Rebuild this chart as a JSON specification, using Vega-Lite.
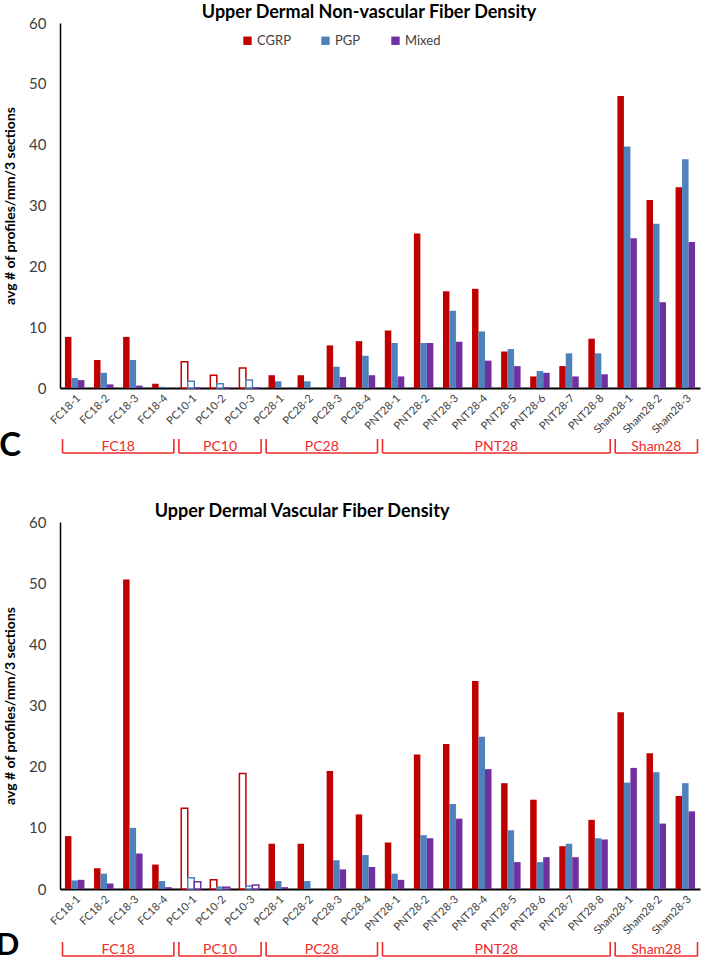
{
  "$schema": "https://vega.github.io/schema/vega-lite/v6.json",
  "background": "white",
  "padding": {"left": -5, "top": 4, "right": 2, "bottom": 0},
  "config": {
    "font": "Lato",
    "view": {"stroke": null},
    "axis": {"grid": false, "ticks": false, "domainColor": "black", "labelColor": "#404040", "labelFont": "Lato", "titleFont": "Lato"},
    "title": {"font": "Lato", "fontWeight": "bold", "fontSize": 18, "color": "black", "offset": -6},
    "legend": {"labelFont": "Lato"}
  },
  "datasets": {
    "C": [
      {"sample": "FC18-1", "group": "FC18", "CGRP": 8.4, "PGP": 1.65, "Mixed": 1.3},
      {"sample": "FC18-2", "group": "FC18", "CGRP": 4.6, "PGP": 2.5, "Mixed": 0.6},
      {"sample": "FC18-3", "group": "FC18", "CGRP": 8.4, "PGP": 4.6, "Mixed": 0.4},
      {"sample": "FC18-4", "group": "FC18", "CGRP": 0.7, "PGP": 0.2, "Mixed": 0},
      {"sample": "PC10-1", "group": "PC10", "CGRP": 4.3, "PGP": 1.1, "Mixed": 0},
      {"sample": "PC10-2", "group": "PC10", "CGRP": 2.1, "PGP": 0.7, "Mixed": 0},
      {"sample": "PC10-3", "group": "PC10", "CGRP": 3.3, "PGP": 1.3, "Mixed": 0},
      {"sample": "PC28-1", "group": "PC28", "CGRP": 2.1, "PGP": 1.1, "Mixed": 0},
      {"sample": "PC28-2", "group": "PC28", "CGRP": 2.1, "PGP": 1.1, "Mixed": 0},
      {"sample": "PC28-3", "group": "PC28", "CGRP": 7.0, "PGP": 3.5, "Mixed": 1.8},
      {"sample": "PC28-4", "group": "PC28", "CGRP": 7.7, "PGP": 5.3, "Mixed": 2.1},
      {"sample": "PNT28-1", "group": "PNT28", "CGRP": 9.45, "PGP": 7.4, "Mixed": 1.9},
      {"sample": "PNT28-2", "group": "PNT28", "CGRP": 25.4, "PGP": 7.4, "Mixed": 7.4},
      {"sample": "PNT28-3", "group": "PNT28", "CGRP": 15.9, "PGP": 12.7, "Mixed": 7.6},
      {"sample": "PNT28-4", "group": "PNT28", "CGRP": 16.3, "PGP": 9.3, "Mixed": 4.5},
      {"sample": "PNT28-5", "group": "PNT28", "CGRP": 6.0, "PGP": 6.4, "Mixed": 3.6},
      {"sample": "PNT28-6", "group": "PNT28", "CGRP": 1.9, "PGP": 2.8, "Mixed": 2.5},
      {"sample": "PNT28-7", "group": "PNT28", "CGRP": 3.6, "PGP": 5.7, "Mixed": 1.9},
      {"sample": "PNT28-8", "group": "PNT28", "CGRP": 8.1, "PGP": 5.7, "Mixed": 2.25},
      {"sample": "Sham28-1", "group": "Sham28", "CGRP": 48.0, "PGP": 39.7, "Mixed": 24.6},
      {"sample": "Sham28-2", "group": "Sham28", "CGRP": 30.9, "PGP": 27.0, "Mixed": 14.1},
      {"sample": "Sham28-3", "group": "Sham28", "CGRP": 33.0, "PGP": 37.6, "Mixed": 24.0}
    ],
    "D": [
      {"sample": "FC18-1", "group": "FC18", "CGRP": 8.65, "PGP": 1.4, "Mixed": 1.5},
      {"sample": "FC18-2", "group": "FC18", "CGRP": 3.4, "PGP": 2.5, "Mixed": 0.9},
      {"sample": "FC18-3", "group": "FC18", "CGRP": 50.6, "PGP": 10.0, "Mixed": 5.8},
      {"sample": "FC18-4", "group": "FC18", "CGRP": 4.0, "PGP": 1.3, "Mixed": 0.3},
      {"sample": "PC10-1", "group": "PC10", "CGRP": 13.2, "PGP": 1.85, "Mixed": 1.2},
      {"sample": "PC10-2", "group": "PC10", "CGRP": 1.5, "PGP": 0.3, "Mixed": 0.3},
      {"sample": "PC10-3", "group": "PC10", "CGRP": 18.9, "PGP": 0.5, "Mixed": 0.65},
      {"sample": "PC28-1", "group": "PC28", "CGRP": 7.4, "PGP": 1.3, "Mixed": 0.3},
      {"sample": "PC28-2", "group": "PC28", "CGRP": 7.4, "PGP": 1.3, "Mixed": 0},
      {"sample": "PC28-3", "group": "PC28", "CGRP": 19.3, "PGP": 4.7, "Mixed": 3.2},
      {"sample": "PC28-4", "group": "PC28", "CGRP": 12.2, "PGP": 5.55, "Mixed": 3.6},
      {"sample": "PNT28-1", "group": "PNT28", "CGRP": 7.6, "PGP": 2.5, "Mixed": 1.5},
      {"sample": "PNT28-2", "group": "PNT28", "CGRP": 22.0, "PGP": 8.8, "Mixed": 8.3},
      {"sample": "PNT28-3", "group": "PNT28", "CGRP": 23.7, "PGP": 13.9, "Mixed": 11.5},
      {"sample": "PNT28-4", "group": "PNT28", "CGRP": 34.0, "PGP": 24.9, "Mixed": 19.6},
      {"sample": "PNT28-5", "group": "PNT28", "CGRP": 17.3, "PGP": 9.6, "Mixed": 4.4},
      {"sample": "PNT28-6", "group": "PNT28", "CGRP": 14.6, "PGP": 4.4, "Mixed": 5.2},
      {"sample": "PNT28-7", "group": "PNT28", "CGRP": 7.0, "PGP": 7.4, "Mixed": 5.2},
      {"sample": "PNT28-8", "group": "PNT28", "CGRP": 11.3, "PGP": 8.3, "Mixed": 8.1},
      {"sample": "Sham28-1", "group": "Sham28", "CGRP": 28.9, "PGP": 17.4, "Mixed": 19.8},
      {"sample": "Sham28-2", "group": "Sham28", "CGRP": 22.2, "PGP": 19.1, "Mixed": 10.7},
      {"sample": "Sham28-3", "group": "Sham28", "CGRP": 15.2, "PGP": 17.3, "Mixed": 12.7}
    ],
    "groups": [
      {"group": "FC18", "start": 0, "end": 4},
      {"group": "PC10", "start": 4, "end": 7},
      {"group": "PC28", "start": 7, "end": 11},
      {"group": "PNT28", "start": 11, "end": 19},
      {"group": "Sham28", "start": 19, "end": 22}
    ]
  },
  "spacing": 40,
  "vconcat": [
    {
      "spacing": 51,
      "bounds": "flush",
      "vconcat": [
        {
          "title": {"text": "Upper Dermal Non-vascular Fiber Density", "dx": -11},
          "width": 640,
          "height": 365,
          "data": {"name": "C"},
          "transform": [{"fold": ["CGRP", "PGP", "Mixed"], "as": ["series", "value"]}],
          "mark": {"type": "bar"},
          "encoding": {
            "x": {"field": "sample", "type": "nominal", "sort": null, "scale": {"paddingInner": 0.33, "paddingOuter": 0.17}, "axis": {"title": null, "labelAngle": -45, "labelFontSize": 11, "domainWidth": 2, "labelPadding": 4}},
            "xOffset": {"field": "series", "type": "nominal", "sort": ["CGRP", "PGP", "Mixed"], "scale": {"paddingInner": 0, "paddingOuter": 0}},
            "y": {"field": "value", "type": "quantitative", "scale": {"domain": [0, 60]}, "axis": {"title": "avg # of profiles/mm/3 sections", "values": [0, 10, 20, 30, 40, 50, 60], "labelFontSize": 15, "labelPadding": 14, "titleFontSize": 14, "titleFontWeight": "bold", "titleColor": "black", "titlePadding": 11, "domainWidth": 1.5}},
            "fill": {"condition": {"test": "datum.group === 'PC10'", "value": "white"}, "field": "series", "type": "nominal", "scale": {"domain": ["CGRP", "PGP", "Mixed"], "range": ["#C00000", "#4F81BD", "#7030A0"]}, "legend": {"orient": "none", "legendX": 181, "legendY": 11, "direction": "horizontal", "title": null, "symbolType": "square", "symbolSize": 70, "symbolStrokeWidth": 0, "labelFontSize": 13, "labelColor": "#404040", "columnPadding": 28, "labelOffset": 3}},
            "stroke": {"field": "series", "type": "nominal", "scale": {"domain": ["CGRP", "PGP", "Mixed"], "range": ["#C00000", "#4F81BD", "#7030A0"]}, "legend": null},
            "strokeWidth": {"condition": {"test": "datum.group === 'PC10'", "value": 1.5}, "value": 0}
          }
        },
        {
          "width": 640,
          "height": 14,
          "title": {"text": "C", "orient": "left", "angle": 0, "fontSize": 33, "fontWeight": "bold", "offset": 17, "anchor": "middle", "baseline": "middle", "align": "right"},
          "data": {"name": "groups"},
          "transform": [{"calculate": "(datum.start + datum.end) / 2", "as": "mid"}],
          "layer": [
            {"mark": {"type": "rule", "color": "#EE2A2A", "strokeWidth": 1.6, "xOffset": 2.5, "x2Offset": -2.5}, "encoding": {"x": {"field": "start", "type": "quantitative", "scale": {"domain": [0, 22], "nice": false, "zero": false}, "axis": null}, "x2": {"field": "end"}, "y": {"datum": 0, "type": "quantitative", "scale": {"domain": [0, 1]}, "axis": null}}},
            {"mark": {"type": "rule", "color": "#EE2A2A", "strokeWidth": 1.6, "xOffset": 2.5}, "encoding": {"x": {"field": "start", "type": "quantitative"}, "y": {"datum": 0, "type": "quantitative"}, "y2": {"datum": 1}}},
            {"mark": {"type": "rule", "color": "#EE2A2A", "strokeWidth": 1.6, "xOffset": -2.5}, "encoding": {"x": {"field": "end", "type": "quantitative"}, "y": {"datum": 0, "type": "quantitative"}, "y2": {"datum": 1}}},
            {"mark": {"type": "text", "color": "#EE2A2A", "fontSize": 14, "baseline": "alphabetic", "dy": -2}, "encoding": {"x": {"field": "mid", "type": "quantitative"}, "y": {"datum": 0, "type": "quantitative"}, "text": {"field": "group"}}}
          ]
        }
      ]
    },
    {
      "spacing": 53,
      "bounds": "flush",
      "vconcat": [
        {
          "title": {"text": "Upper Dermal Vascular Fiber Density", "dx": -78},
          "width": 640,
          "height": 367,
          "data": {"name": "D"},
          "transform": [{"fold": ["CGRP", "PGP", "Mixed"], "as": ["series", "value"]}],
          "mark": {"type": "bar"},
          "encoding": {
            "x": {"field": "sample", "type": "nominal", "sort": null, "scale": {"paddingInner": 0.33, "paddingOuter": 0.17}, "axis": {"title": null, "labelAngle": -45, "labelFontSize": 11, "domainWidth": 2, "labelPadding": 4}},
            "xOffset": {"field": "series", "type": "nominal", "sort": ["CGRP", "PGP", "Mixed"], "scale": {"paddingInner": 0, "paddingOuter": 0}},
            "y": {"field": "value", "type": "quantitative", "scale": {"domain": [0, 60]}, "axis": {"title": "avg # of profiles/mm/3 sections", "values": [0, 10, 20, 30, 40, 50, 60], "labelFontSize": 15, "labelPadding": 14, "titleFontSize": 14, "titleFontWeight": "bold", "titleColor": "black", "titlePadding": 11, "domainWidth": 1.5}},
            "fill": {"condition": {"test": "datum.group === 'PC10'", "value": "white"}, "field": "series", "type": "nominal", "scale": {"domain": ["CGRP", "PGP", "Mixed"], "range": ["#C00000", "#4F81BD", "#7030A0"]}, "legend": {"orient": "none", "legendX": 181, "legendY": 15, "direction": "horizontal", "title": null, "symbolType": "square", "symbolSize": 70, "symbolStrokeWidth": 0, "labelFontSize": 13, "labelColor": "#404040", "columnPadding": 28, "labelOffset": 3}},
            "stroke": {"field": "series", "type": "nominal", "scale": {"domain": ["CGRP", "PGP", "Mixed"], "range": ["#C00000", "#4F81BD", "#7030A0"]}, "legend": null},
            "strokeWidth": {"condition": {"test": "datum.group === 'PC10'", "value": 1.5}, "value": 0}
          }
        },
        {
          "width": 640,
          "height": 14,
          "title": {"text": "D", "orient": "left", "angle": 0, "fontSize": 31, "fontWeight": "bold", "offset": 17, "anchor": "middle", "baseline": "middle", "align": "right", "dy": -3},
          "data": {"name": "groups"},
          "transform": [{"calculate": "(datum.start + datum.end) / 2", "as": "mid"}],
          "layer": [
            {"mark": {"type": "rule", "color": "#EE2A2A", "strokeWidth": 1.6, "xOffset": 2.5, "x2Offset": -2.5}, "encoding": {"x": {"field": "start", "type": "quantitative", "scale": {"domain": [0, 22], "nice": false, "zero": false}, "axis": null}, "x2": {"field": "end"}, "y": {"datum": 0, "type": "quantitative", "scale": {"domain": [0, 1]}, "axis": null}}},
            {"mark": {"type": "rule", "color": "#EE2A2A", "strokeWidth": 1.6, "xOffset": 2.5}, "encoding": {"x": {"field": "start", "type": "quantitative"}, "y": {"datum": 0, "type": "quantitative"}, "y2": {"datum": 1}}},
            {"mark": {"type": "rule", "color": "#EE2A2A", "strokeWidth": 1.6, "xOffset": -2.5}, "encoding": {"x": {"field": "end", "type": "quantitative"}, "y": {"datum": 0, "type": "quantitative"}, "y2": {"datum": 1}}},
            {"mark": {"type": "text", "color": "#EE2A2A", "fontSize": 14, "baseline": "alphabetic", "dy": -2}, "encoding": {"x": {"field": "mid", "type": "quantitative"}, "y": {"datum": 0, "type": "quantitative"}, "text": {"field": "group"}}}
          ]
        }
      ]
    }
  ]
}
